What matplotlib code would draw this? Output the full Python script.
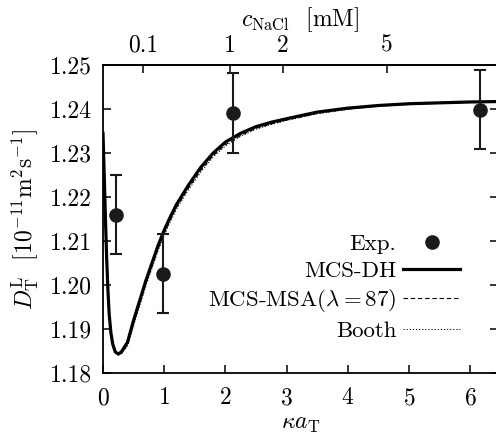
import numpy as np
import matplotlib
matplotlib.use("Agg")
import matplotlib.pyplot as plt

plt.rcParams.update({
    "font.family": "serif",
    "font.serif": ["cmr10"],
    "mathtext.fontset": "cm",
    "axes.formatter.use_mathtext": True,
    "font.size": 17,
    "axes.linewidth": 1.3,
})

# Experimental points
exp_ka = [0.21, 0.975, 2.13, 6.16]
exp_D = [1.2160, 1.2026, 1.2391, 1.2398]
exp_err = [0.0090, 0.0090, 0.0090, 0.0090]

# Theory curves
ka = [0.00, 0.02, 0.04, 0.06, 0.08, 0.10, 0.13, 0.16, 0.20, 0.25, 0.30, 0.40,
      0.50, 0.60, 0.70, 0.80, 0.90, 1.00, 1.10, 1.20, 1.40, 1.60, 1.80, 2.00,
      2.25, 2.50, 2.75, 3.00, 3.50, 4.00, 4.50, 5.00, 5.50, 6.00, 6.50]
D_dh = [1.2345, 1.2250, 1.2150, 1.2060, 1.1990, 1.1935, 1.1890, 1.1865, 1.1848,
        1.1843, 1.1848, 1.1870, 1.1920, 1.1965, 1.2010, 1.2050, 1.2090, 1.2125,
        1.2155, 1.2183, 1.2228, 1.2268, 1.2300, 1.2325, 1.2345, 1.2360, 1.2370,
        1.2378, 1.2393, 1.2402, 1.2408, 1.2412, 1.2414, 1.2416, 1.2417]
D_msa = [1.2345, 1.2252, 1.2153, 1.2064, 1.1994, 1.1938, 1.1892, 1.1866, 1.1848,
         1.1842, 1.1845, 1.1864, 1.1912, 1.1957, 1.2002, 1.2042, 1.2082, 1.2117,
         1.2148, 1.2176, 1.2221, 1.2261, 1.2294, 1.2319, 1.2340, 1.2356, 1.2366,
         1.2375, 1.2390, 1.2400, 1.2407, 1.2411, 1.2413, 1.2415, 1.2416]
D_booth = [1.2345, 1.2253, 1.2155, 1.2066, 1.1996, 1.1940, 1.1894, 1.1867, 1.1849,
           1.1841, 1.1843, 1.1861, 1.1908, 1.1953, 1.1998, 1.2038, 1.2078, 1.2113,
           1.2144, 1.2172, 1.2217, 1.2257, 1.2291, 1.2316, 1.2338, 1.2354, 1.2365,
           1.2374, 1.2389, 1.2399, 1.2406, 1.2410, 1.2413, 1.2415, 1.2416]

# Salt concentration axis: kappa*a_T = K * sqrt(c / mM)
K = 2.075
c_ticks = [0.1, 1, 2, 5]
c_labels = ["0.1", "1", "2", "5"]
y_ticks = [1.18, 1.19, 1.20, 1.21, 1.22, 1.23, 1.24, 1.25]
x_ticks = [0, 1, 2, 3, 4, 5, 6]

fig = plt.figure(figsize=(4.96, 4.37), dpi=100)
ax = fig.add_axes([103 / 496, 1 - 373 / 437, 395 / 496, 308 / 437])

ax.errorbar(exp_ka, exp_D, yerr=exp_err, fmt="none", ecolor="#1a1a1a",
            elinewidth=1.5, capsize=4.5, capthick=1.5, zorder=5)
h_exp, = ax.plot(exp_ka, exp_D, "o", color="#1a1a1a", ms=9.5, label="Exp.",
                 zorder=6)
h_dh, = ax.plot(ka, D_dh, color="black", lw=2.3, label="MCS-DH", zorder=4)
h_msa, = ax.plot(ka, D_msa, color="black", lw=0.8, ls=(0, (4, 2.5)),
                 label=r"MCS-MSA$(\lambda=87)$", zorder=3)
h_booth, = ax.plot(ka, D_booth, color="black", lw=0.7, ls=(0, (1.2, 2)),
                   label="Booth", zorder=3)

ax.set_xlim(0, 6.45)
ax.set_ylim(1.18, 1.25)
ax.set_xticks(x_ticks)
ax.set_yticks(y_ticks)
ax.set_yticklabels([f"{v:.2f}" for v in y_ticks])
ax.tick_params(axis="both", direction="in", length=6, width=1.1)
ax.tick_params(axis="y", right=True, pad=8)
ax.tick_params(axis="x", top=False, pad=10)

ax.set_xlabel(r"$\kappa a_{\mathrm{T}}$", labelpad=3)
ax.set_ylabel(r"$D_{\mathrm{T}}^{\mathrm{L}}$  $[10^{-11}\mathrm{m}^2\mathrm{s}^{-1}]$",
              labelpad=6)

top = ax.secondary_xaxis(
    "top",
    functions=(lambda x: (np.asarray(x) / K) ** 2,
               lambda c: K * np.sqrt(np.clip(np.asarray(c), 0, None))))
top.set_xticks(c_ticks)
top.set_xticklabels(c_labels)
top.tick_params(direction="in", length=6, width=1.1, pad=6)
top.set_xlabel(r"$c_{\mathrm{NaCl}}$  [mM]", labelpad=6)

leg = ax.legend(handles=[h_exp, h_dh, h_msa, h_booth], loc="lower right",
                bbox_to_anchor=(0.905, 0.105), frameon=False, fontsize=16.5,
                markerfirst=False, numpoints=1, handlelength=2.5,
                labelspacing=0.28, handletextpad=0.3, borderaxespad=0,
                borderpad=0)

fig.savefig("out.png", dpi=100)
